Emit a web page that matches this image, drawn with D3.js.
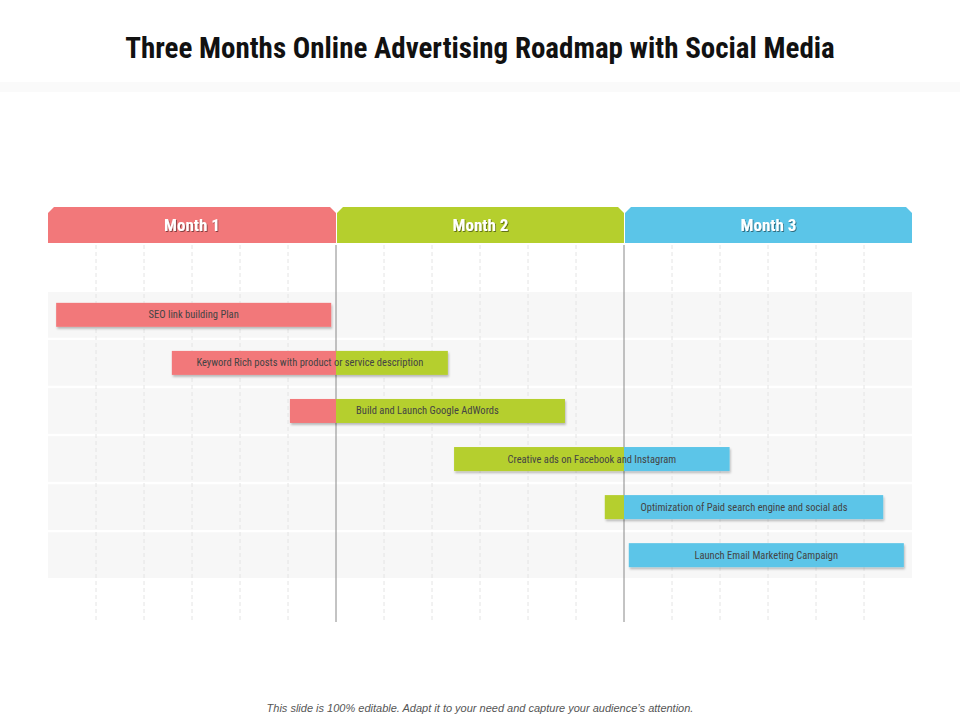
<!DOCTYPE html>
<html><head><meta charset="utf-8">
<script src="https://cdn.jsdelivr.net/npm/d3@7"></script>
<style>body{margin:0;background:#fff}</style></head>
<body><svg id="c" width="960" height="720"></svg>
<script>
const months = ["Month 1","Month 2","Month 3"];
const monthColors = ["#f2787a","#b5cf2d","#5bc5e8"];
const tasks = ["SEO link building Plan","Keyword Rich posts with product or service description","Build and Launch Google AdWords","Creative ads on Facebook and Instagram","Optimization of Paid search engine and social ads","Launch Email Marketing Campaign"];
const starts = [0.17,2.58,5.04,8.46,11.6,12.1];
const ends = [5.9,8.33,10.77,14.2,17.4,17.83];
const weeksPerMonth = 6;

const svg = d3.select("#c");
const font = "'Liberation Sans Narrow','Roboto Condensed',Roboto,sans-serif";
const x = d3.scaleLinear().domain([0,18]).range([48,912]);
const y = d3.scaleBand().domain(tasks).range([292,578]).paddingInner(0.05);

svg.append("text").attr("x",480).attr("y",58).attr("text-anchor","middle")
  .attr("font-family",font).attr("font-weight","bold").attr("font-size",29).attr("fill","#111")
  .text("Three Months Online Advertising Roadmap with Social Media");
svg.append("rect").attr("x",0).attr("y",82).attr("width",960).attr("height",10).attr("fill","#fafafa");

const defs = svg.append("defs");
const f = defs.append("filter").attr("id","sh").attr("x","-5%").attr("y","-20%").attr("width","110%").attr("height","160%");
f.append("feDropShadow").attr("dx",1).attr("dy",2).attr("stdDeviation",1.2).attr("flood-color","#000").attr("flood-opacity",0.25);
const ts = defs.append("filter").attr("id","ts");
ts.append("feDropShadow").attr("dx",1).attr("dy",1).attr("stdDeviation",0.6).attr("flood-color","#000").attr("flood-opacity",0.45);

// row bands
svg.selectAll(".band").data(tasks).join("rect")
  .attr("x",x(0)).attr("width",x(18)-x(0)).attr("y",d=>y(d)).attr("height",y.bandwidth()).attr("fill","#f7f7f7");

// dashed grid
svg.selectAll(".grid").data(d3.range(1,18).filter(d=>d%weeksPerMonth)).join("line")
  .attr("x1",d=>x(d)).attr("x2",d=>x(d)).attr("y1",245).attr("y2",622)
  .attr("stroke","#e4e4e4").attr("stroke-dasharray","4,3");
svg.selectAll(".mline").data([6,12]).join("line")
  .attr("x1",d=>x(d)).attr("x2",d=>x(d)).attr("y1",245).attr("y2",622)
  .attr("stroke","#888").attr("stroke-width",1);

// headers
months.forEach((m,i)=>{
  const x0 = x(i*weeksPerMonth)+(i?1:0), x1 = x((i+1)*weeksPerMonth), t=207,b=243,c=6;
  svg.append("path").attr("d",`M${x0},${b}L${x0},${t+c}L${x0+c},${t}L${x1-c},${t}L${x1},${t+c}L${x1},${b}Z`).attr("fill",monthColors[i]);
  svg.append("text").attr("x",(x0+x1)/2).attr("y",231).attr("text-anchor","middle")
    .attr("font-family",font).attr("font-weight","bold").attr("font-size",17).attr("fill","#fff")
    .attr("filter","url(#ts)").text(m);
});

// bars
tasks.forEach((t,i)=>{
  const g = svg.append("g").attr("filter","url(#sh)");
  const yc = y(t)+y.bandwidth()/2;
  months.forEach((m,k)=>{
    const a = Math.max(starts[i],k*weeksPerMonth), b = Math.min(ends[i],(k+1)*weeksPerMonth);
    if(b>a) g.append("rect").attr("x",x(a)).attr("width",x(b)-x(a)).attr("y",yc-12).attr("height",24).attr("fill",monthColors[k]);
  });
  svg.append("text").attr("x",(x(starts[i])+x(ends[i]))/2).attr("y",yc+3.5).attr("text-anchor","middle")
    .attr("font-family",font).attr("font-size",10.5).attr("fill","#444").text(t);
});

svg.append("text").attr("x",480).attr("y",712).attr("text-anchor","middle")
  .attr("font-family","'Liberation Sans',Arial,sans-serif").attr("font-style","italic").attr("font-size",11).attr("fill","#555")
  .text("This slide is 100% editable. Adapt it to your need and capture your audience’s attention.");
</script></body></html>
